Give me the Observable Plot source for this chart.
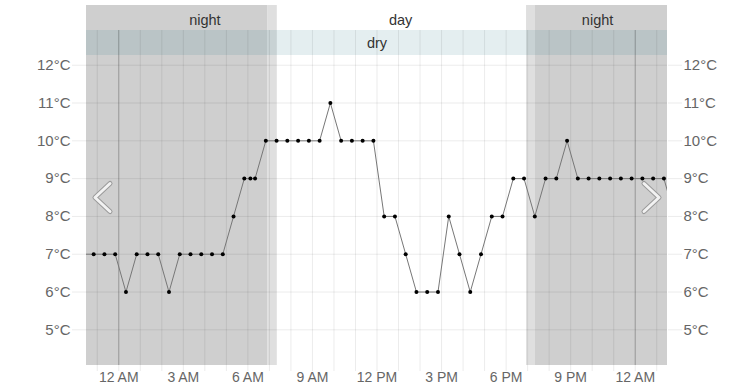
<!DOCTYPE html>
<html><head><meta charset="utf-8">
<script src="https://cdn.jsdelivr.net/npm/d3@7"></script>
<script src="https://cdn.jsdelivr.net/npm/@observablehq/plot@0.6"></script>
<style>
body{margin:0;background:#fff;}
#chart{width:753px;font-family:"Liberation Sans",Arial,sans-serif;}
#chart svg{display:block;}
</style></head><body><div id="chart"></div>
<script>
// ---- data ----
const viewStart = "2024-03-09T22:30Z";
const viewEnd = "2024-03-11T01:30Z";

const obsTimes = [
  "2024-03-09T22:20Z","2024-03-09T22:50Z","2024-03-09T23:20Z","2024-03-09T23:50Z",
  "2024-03-10T00:20Z","2024-03-10T00:50Z","2024-03-10T01:20Z","2024-03-10T01:50Z",
  "2024-03-10T02:20Z","2024-03-10T02:50Z","2024-03-10T03:20Z","2024-03-10T03:50Z",
  "2024-03-10T04:20Z","2024-03-10T04:50Z","2024-03-10T05:20Z","2024-03-10T05:50Z",
  "2024-03-10T06:07Z","2024-03-10T06:20Z","2024-03-10T06:50Z","2024-03-10T07:20Z",
  "2024-03-10T07:50Z","2024-03-10T08:20Z","2024-03-10T08:50Z","2024-03-10T09:20Z",
  "2024-03-10T09:50Z","2024-03-10T10:20Z","2024-03-10T10:50Z","2024-03-10T11:20Z",
  "2024-03-10T11:50Z","2024-03-10T12:20Z","2024-03-10T12:50Z","2024-03-10T13:20Z",
  "2024-03-10T13:50Z","2024-03-10T14:20Z","2024-03-10T14:50Z","2024-03-10T15:20Z",
  "2024-03-10T15:50Z","2024-03-10T16:20Z","2024-03-10T16:50Z","2024-03-10T17:20Z",
  "2024-03-10T17:50Z","2024-03-10T18:20Z","2024-03-10T18:50Z","2024-03-10T19:20Z",
  "2024-03-10T19:50Z","2024-03-10T20:20Z","2024-03-10T20:50Z","2024-03-10T21:20Z",
  "2024-03-10T21:50Z","2024-03-10T22:20Z","2024-03-10T22:50Z","2024-03-10T23:20Z",
  "2024-03-10T23:50Z","2024-03-11T00:20Z","2024-03-11T00:50Z","2024-03-11T01:20Z",
  "2024-03-11T01:50Z"
];
const obsTemps = [
  7,7,7,7,
  6,7,7,7,
  6,7,7,7,
  7,7,8,9,
  9,9,10,10,
  10,10,10,10,
  11,10,10,10,
  10,8,8,7,
  6,6,6,8,
  7,6,7,8,
  8,9,9,8,
  9,9,10,9,
  9,9,9,9,
  9,9,9,9,
  8
];

const phaseStarts = ["2024-03-09T19:22Z","2024-03-10T06:55Z","2024-03-10T18:57Z","2024-03-10T19:22Z"];
const phaseEnds   = ["2024-03-10T06:55Z","2024-03-10T07:22Z","2024-03-10T19:22Z","2024-03-11T06:55Z"];
const phaseKinds  = ["night","twilight","twilight","night"];

const headerLabels = ["night","day","night"];
const headerLabelTimes = ["2024-03-10T04:00Z","2024-03-10T13:06Z","2024-03-10T22:15Z"];
const weatherLabels = ["dry"];
const weatherStarts = ["2024-03-09T22:30Z"];
const weatherEnds = ["2024-03-11T01:30Z"];

const tempTicks = [5,6,7,8,9,10,11,12];
const timeTickTimes = ["2024-03-10T00:00Z","2024-03-10T03:00Z","2024-03-10T06:00Z","2024-03-10T09:00Z",
  "2024-03-10T12:00Z","2024-03-10T15:00Z","2024-03-10T18:00Z","2024-03-10T21:00Z","2024-03-11T00:00Z"];
const timeTickLabels = ["12 AM","3 AM","6 AM","9 AM","12 PM","3 PM","6 PM","9 PM","12 AM"];
const midnights = ["2024-03-10T00:00Z","2024-03-11T00:00Z"];

// ---- build ----
const t0 = new Date(viewStart), t1 = new Date(viewEnd);
const clampT = d => new Date(Math.min(Math.max(+d, +t0), +t1));
const obs = obsTimes.map((t, i) => ({time: new Date(t), temp: obsTemps[i]}));
const phases = phaseStarts.map((s, i) => ({start: clampT(new Date(s)), end: clampT(new Date(phaseEnds[i])), kind: phaseKinds[i]}));
const phaseColor = {night: "#cfcfcf", twilight: "#dfdfdf"};
const headerData = headerLabels.map((l, i) => ({label: l, time: new Date(headerLabelTimes[i])}));
const weatherData = weatherLabels.map((l, i) => ({label: l, start: new Date(weatherStarts[i]), end: new Date(weatherEnds[i])}));
const hours = d3.utcHour.range(t0, t1);
const mids = midnights.map(d => new Date(d));
const tickLabelMap = new Map(timeTickTimes.map((t, i) => [+new Date(t), timeTickLabels[i]]));
const tickDates = timeTickTimes.map(d => new Date(d));

const font = {fontFamily: "'Liberation Sans', Arial, sans-serif", background: "transparent"};
const xScale = {type: "utc", domain: [t0, t1], axis: null};
const W = 753, ML = 86, MR = 86;

const chevL = {draw(c){ c.moveTo(7.5,-14); c.lineTo(-7.5,0); c.lineTo(7.5,14); }};
const chevR = {draw(c){ c.moveTo(-7.5,-14); c.lineTo(7.5,0); c.lineTo(-7.5,14); }};

const header = Plot.plot({
  width: W, height: 55, marginTop: 5, marginBottom: 0, marginLeft: ML, marginRight: MR,
  style: font,
  x: xScale,
  y: {type: "band", domain: ["phase", "weather"], padding: 0, axis: null},
  marks: [
    Plot.barX(phases, {x1: "start", x2: "end", fill: d => phaseColor[d.kind]}),
    Plot.barX(weatherData, {x1: "start", x2: "end", y: () => "weather", fill: "rgb(47,124,139)", fillOpacity: 0.13}),
    Plot.tickX(hours, {x: d => d, y: () => "weather", stroke: "black", strokeOpacity: 0.08}),
    Plot.tickX(mids, {x: d => d, y: () => "weather", stroke: "black", strokeOpacity: 0.2}),
    Plot.text(headerData, {x: "time", y: () => "phase", text: "label", fill: "#333", fontSize: 14.5, dy: 2.5}),
    Plot.text(weatherData, {x: d => new Date((+d.start + +d.end) / 2), y: () => "weather", text: "label", fill: "#333", fontSize: 14.5, dy: 0.5})
  ]
});

const main = Plot.plot({
  width: W, height: 332, marginTop: 0, marginBottom: 22, marginLeft: ML, marginRight: MR,
  style: font,
  x: xScale,
  y: {domain: [4.056, 12.257], axis: null},
  marks: [
    Plot.barX(phases, {x1: "start", x2: "end", fill: d => phaseColor[d.kind]}),
    Plot.gridY(tempTicks, {stroke: "black", strokeOpacity: 0.08}),
    Plot.gridX(hours, {stroke: "black", strokeOpacity: 0.08}),
    Plot.ruleX(mids, {stroke: "black", strokeOpacity: 0.2}),
    Plot.axisY(tempTicks, {anchor: "left", label: null, tickSize: 14, tickPadding: 2, tickFormat: d => d + "°C", stroke: "black", strokeOpacity: 0.08, fill: "#666", fontSize: 15}),
    Plot.axisY(tempTicks, {anchor: "right", label: null, tickSize: 14, tickPadding: 2, tickFormat: d => d + "°C", stroke: "black", strokeOpacity: 0.08, fill: "#666", fontSize: 15}),
    Plot.axisX(hours, {anchor: "bottom", label: null, tickSize: 6, tickFormat: () => "", stroke: "black", strokeOpacity: 0.08}),
    Plot.axisX(tickDates, {anchor: "bottom", label: null, tickSize: 0, tickPadding: 7, tickFormat: d => tickLabelMap.get(+d), fill: "#666", fontSize: 14}),
    Plot.line(obs, {x: "time", y: "temp", stroke: "#777", strokeWidth: 1, clip: true}),
    Plot.dot(obs, {x: "time", y: "temp", r: 2, fill: "black", clip: true}),
    Plot.dot([0], {frameAnchor: "left", dx: 16, dy: -13, symbol: chevL, r: 1, fill: "none", stroke: "#9a9a9a", strokeWidth: 5, strokeLinejoin: "round", strokeLinecap: "round"}),
    Plot.dot([0], {frameAnchor: "left", dx: 16, dy: -13, symbol: chevL, r: 1, fill: "none", stroke: "#f2f2f2", strokeWidth: 3, strokeLinejoin: "round", strokeLinecap: "round"}),
    Plot.dot([0], {frameAnchor: "right", dx: -16, dy: -13, symbol: chevR, r: 1, fill: "none", stroke: "#9a9a9a", strokeWidth: 5, strokeLinejoin: "round", strokeLinecap: "round"}),
    Plot.dot([0], {frameAnchor: "right", dx: -16, dy: -13, symbol: chevR, r: 1, fill: "none", stroke: "#f2f2f2", strokeWidth: 3, strokeLinejoin: "round", strokeLinecap: "round"})
  ]
});

const el = document.getElementById("chart");
el.appendChild(header);
el.appendChild(main);
</script></body></html>
